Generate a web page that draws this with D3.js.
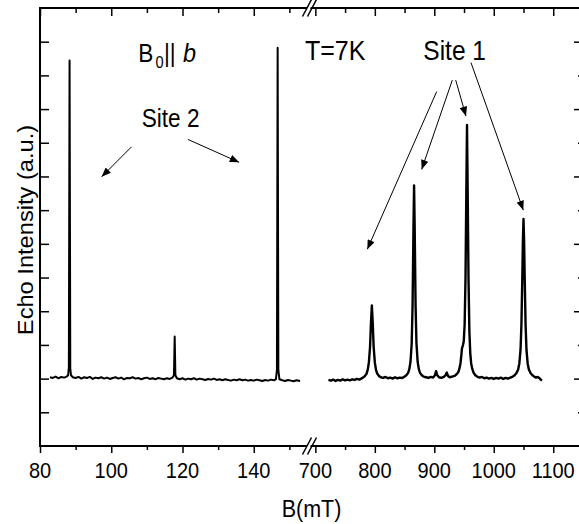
<!DOCTYPE html>
<html>
<head>
<meta charset="utf-8">
<script src="https://cdn.jsdelivr.net/npm/d3@7"></script>
<style>
  html, body { margin: 0; padding: 0; background: #fff; }
  svg { display: block; font-family: "Liberation Sans", Arial, Helvetica, sans-serif; }
</style>
</head>
<body>
<svg id="chart" width="579" height="524"></svg>
<script>
// Low-field scan (Site 2 lines), [B (mT), echo intensity (a.u.)]
const lowFieldTrace = [
  [82.8,0.04],[83.6,0.02],[84.4,0.06],[85.2,0.01],[86.0,0.05],[86.8,0.03],[87.5,0.06],
  [87.9,0.10],[88.1,0.35],[88.3,9.44],[88.5,0.30],[88.7,0.10],[89.2,0.04],[90.0,0.02],
  [90.8,0.05],[91.6,0.00],[92.4,0.04],[93.2,0.02],[94.0,0.05],[94.8,-0.01],[95.6,0.03],
  [96.4,0.01],[97.2,0.04],[98.0,0.00],[98.8,0.03],[99.6,-0.01],[100.4,0.02],[101.2,0.04],
  [102.0,0.00],[102.8,0.03],[103.6,-0.02],[104.4,0.02],[105.2,0.01],[106.0,0.04],[106.8,0.00],
  [107.6,0.02],[108.4,-0.02],[109.2,0.01],[110.0,0.03],[110.8,-0.01],[111.6,0.01],[112.4,-0.02],
  [113.2,0.02],[114.0,0.00],[114.8,-0.02],[115.6,0.01],[116.4,-0.01],[117.2,0.03],[117.6,0.10],
  [117.8,1.25],[118.0,0.10],[118.4,0.01],[119.2,-0.02],[120.0,0.01],[120.8,-0.03],[121.6,0.00],
  [122.4,-0.02],[123.2,0.01],[124.0,-0.03],[124.8,0.00],[125.6,-0.02],[126.4,-0.04],[127.2,-0.01],
  [128.0,-0.03],[128.8,0.00],[129.6,-0.04],[130.4,-0.02],[131.2,-0.05],[132.0,-0.02],[132.8,-0.04],
  [133.6,-0.06],[134.4,-0.03],[135.2,-0.05],[136.0,-0.02],[136.8,-0.05],[137.6,-0.03],[138.4,-0.06],
  [139.2,-0.04],[140.0,-0.06],[140.8,-0.03],[141.6,-0.05],[142.4,-0.07],[143.2,-0.04],[144.0,-0.06],
  [144.8,-0.03],[145.6,-0.05],[146.2,-0.02],[146.5,0.25],[146.7,9.82],[146.9,0.25],[147.2,-0.02],
  [148.0,-0.05],[148.8,-0.07],[149.6,-0.04],[150.4,-0.06],[151.2,-0.08],[152.0,-0.05],[153.0,-0.07]
];

// High-field scan (Site 1 lines), [B (mT), echo intensity (a.u.)]
const highFieldTrace = [
  [722,-0.04],[726,-0.06],[730,-0.03],[734,-0.07],[738,-0.04],[742,-0.06],[746,-0.02],[750,-0.05],
  [754,-0.03],[758,-0.05],[762,-0.02],[766,-0.04],[770,-0.01],[774,-0.03],[777,0.00],[780,0.03],
  [783,0.07],[786,0.14],[788,0.26],[790,0.48],[792,0.95],[793.5,1.65],[795,2.17],[796.5,1.65],
  [798,0.95],[800,0.48],[802,0.26],[804,0.15],[807,0.08],[810,0.04],[814,0.02],[818,0.05],
  [822,0.01],[826,0.03],[830,0.00],[834,0.04],[838,0.01],[842,0.03],[846,0.02],[850,0.06],
  [853,0.10],[856,0.17],[858,0.28],[860,0.50],[862,1.05],[863.5,2.20],[865,4.50],[866,5.73],
  [867,4.50],[868.5,2.20],[870,1.05],[872,0.50],[874,0.28],[876,0.17],[879,0.10],[882,0.06],
  [886,0.04],[890,0.02],[894,0.05],[898,0.03],[901,0.10],[903,0.22],[905,0.10],[908,0.04],
  [912,0.02],[916,0.05],[919,0.10],[921,0.18],[923,0.08],[926,0.04],[930,0.06],[934,0.08],
  [937,0.12],[940,0.18],[942,0.28],[944,0.45],[945.5,0.70],[946.5,0.90],[948,0.98],[949.5,1.10],
  [951,1.60],[952.5,3.00],[954,5.80],[955,7.53],[956,5.80],[957.5,3.00],[959,1.40],[960.5,0.75],
  [962,0.45],[964,0.28],[966,0.18],[969,0.10],[972,0.06],[976,0.03],[980,0.05],[984,0.01],
  [988,0.03],[992,0.00],[996,0.02],[1000,-0.01],[1004,0.02],[1008,0.00],[1012,0.03],[1016,-0.01],
  [1020,0.02],[1024,0.00],[1028,0.03],[1032,0.06],[1035,0.10],[1038,0.16],[1041,0.27],[1043,0.45],
  [1045,0.85],[1046.5,1.60],[1048,3.00],[1049,4.10],[1050,4.74],[1051,4.10],[1052,3.00],[1053.5,1.60],
  [1055,0.85],[1057,0.45],[1059,0.27],[1062,0.16],[1065,0.10],[1068,0.06],[1071,0.03],[1074,0.05],
  [1077,0.01],[1079,-0.03],[1081,-0.06]
];

// Axis ticks
const lowMajorTicks = [80, 100, 120, 140];
const lowMinorTicks = [90, 110, 130, 150];
const highMajorTicks = [700, 800, 900, 1000, 1100];
const highMinorTicks = [750, 850, 950, 1050];
const leftTicks = [-1, 0, 1, 2, 3, 4, 5, 6, 7, 8, 9, 10];
const rightMajorTicks = [0, 2, 4, 6, 8, 10];
const rightMinorTicks = [-1, 1, 3, 5, 7, 9];

// Arrows pointing from the site labels to their lines, [B from, I from, B to, I to]
const site2Arrows = [[105.7, 6.88, 97.3, 5.99], [121.5, 7.10, 135.9, 6.42]];
const site1Arrows = [
  [904.0, 8.52, 787.4, 3.84],
  [930.3, 8.86, 878.8, 6.21],
  [936.0, 8.86, 953.3, 7.79],
  [961.7, 9.38, 1049.7, 5.00]
];

const svg = d3.select("#chart");

// Broken field axis: two linear segments sharing one frame
const xLow = d3.scaleLinear().domain([80, 155.5]).range([40, 309]);
const xHigh = d3.scaleLinear().domain([691, 1145]).range([310, 580]);
const y = d3.scaleLinear().domain([-2, 11]).range([446, 8]);

const plotLeft = xLow.range()[0], plotRight = xHigh.range()[1];
const plotTop = y.range()[1], plotBottom = y.range()[0];

// Text helper: glyphs are drawn slightly taller than wide
function label(g, x, yb, str, size, sy, anchor) {
  return g.append("text")
    .attr("transform", `translate(${x},${yb}) scale(1,${sy})`)
    .attr("font-size", size)
    .attr("text-anchor", anchor || "start")
    .attr("fill", "#000")
    .text(str);
}

// Traces
const lowLine = d3.line().x(d => xLow(d[0])).y(d => y(d[1]));
const highLine = d3.line().x(d => xHigh(d[0])).y(d => y(d[1]));

svg.append("path").datum(lowFieldTrace)
  .attr("d", lowLine).attr("fill", "none").attr("stroke", "#000")
  .attr("stroke-width", 2).attr("stroke-linejoin", "round");
svg.append("path").datum(highFieldTrace)
  .attr("d", highLine).attr("fill", "none").attr("stroke", "#000")
  .attr("stroke-width", 2.4).attr("stroke-linejoin", "round");

// Axes
function styleAxis(g) {
  g.select(".domain").remove();
  g.selectAll(".tick line").attr("stroke", "#000").attr("stroke-width", 1.5);
  g.selectAll(".tick text").remove();
}

[[xLow, lowMajorTicks, 7, 8], [xLow, lowMinorTicks, 4, 5],
 [xHigh, highMajorTicks, 7, 8], [xHigh, highMinorTicks, 4, 5]].forEach(([sc, vals, outLen, inLen]) => {
  svg.append("g").attr("transform", `translate(0,${plotBottom})`)
    .call(d3.axisBottom(sc).tickValues(vals).tickSize(outLen).tickSizeOuter(0)).call(styleAxis);
  svg.append("g").attr("transform", `translate(0,${plotTop})`)
    .call(d3.axisTop(sc).tickValues(vals).tickSize(-inLen).tickSizeOuter(0)).call(styleAxis);
});

svg.append("g").attr("transform", `translate(${plotLeft},0)`)
  .call(d3.axisLeft(y).tickValues(leftTicks).tickSize(-9).tickSizeOuter(0)).call(styleAxis);
svg.append("g").attr("transform", `translate(${plotRight},0)`)
  .call(d3.axisRight(y).tickValues(rightMajorTicks).tickSize(-6).tickSizeOuter(0)).call(styleAxis);
svg.append("g").attr("transform", `translate(${plotRight},0)`)
  .call(d3.axisRight(y).tickValues(rightMinorTicks).tickSize(-2).tickSizeOuter(0)).call(styleAxis);

// Frame
const frame = svg.append("g").attr("stroke", "#000").attr("stroke-width", 2).attr("stroke-linecap", "square");
frame.append("line").attr("x1", plotLeft).attr("x2", plotLeft).attr("y1", plotTop).attr("y2", plotBottom);
frame.append("line").attr("x1", plotRight).attr("x2", plotRight).attr("y1", plotTop).attr("y2", plotBottom);
frame.append("line").attr("x1", plotLeft).attr("x2", plotRight).attr("y1", plotTop).attr("y2", plotTop);
frame.append("line").attr("x1", plotLeft).attr("x2", plotRight).attr("y1", plotBottom).attr("y2", plotBottom);

// Axis break marks on top and bottom spines
function breakMark(yc) {
  const bx = (xLow.range()[1] + xHigh.range()[0]) / 2;
  svg.append("polygon")
    .attr("points", [[bx - 4.5, yc + 6], [bx - 0.5, yc - 6], [bx + 3, yc - 6], [bx - 1, yc + 6]].map(p => p.join(",")).join(" "))
    .attr("fill", "#fff");
  [-2.5, 2.5].forEach(off => {
    svg.append("line")
      .attr("x1", bx + off - 4.5).attr("y1", yc + 8.5)
      .attr("x2", bx + off + 4.5).attr("y2", yc - 8.5)
      .attr("stroke", "#000").attr("stroke-width", 1.5);
  });
}
breakMark(plotTop);
breakMark(plotBottom);

// Tick labels
const tickLabels = svg.append("g");
lowMajorTicks.forEach(v => label(tickLabels, xLow(v), 478, String(v), 20, 1.12, "middle"));
highMajorTicks.forEach(v => label(tickLabels, xHigh(v), 478, String(v), 20, 1.12, "middle"));

// Axis titles
label(svg, 311.5, 517, "B(mT)", 21.5, 1.13, "middle");
svg.append("text")
  .attr("transform", `translate(33,230) rotate(-90) scale(1.1,1)`)
  .attr("font-size", 21.5).attr("text-anchor", "middle").attr("fill", "#000")
  .text("Echo Intensity (a.u.)");

// Annotations
const notes = svg.append("g");
label(notes, 138.3, 61.7, "B", 22.6, 1.12);
label(notes, 155.5, 68.3, "0", 14.6, 1.12);
label(notes, 164, 61.7, "||", 22.6, 1.12);
label(notes, 183, 61.7, "b", 23.5, 1.1).attr("font-style", "italic");
label(notes, 141.7, 126.7, "Site 2", 22.6, 1.12);
label(notes, 305, 60, "T=7K", 25, 1.08);
label(notes, 423.3, 60, "Site 1", 24.5, 1.1);

// Arrowhead
svg.append("defs").append("marker")
  .attr("id", "head").attr("viewBox", "0 0 10 8")
  .attr("refX", 10).attr("refY", 4)
  .attr("markerWidth", 10).attr("markerHeight", 7.5)
  .attr("markerUnits", "userSpaceOnUse").attr("orient", "auto")
  .append("path").attr("d", "M0,0 L10,4 L0,8 Z").attr("fill", "#000");

function drawArrows(list, sx) {
  list.forEach(a => {
    notes.append("line")
      .attr("x1", sx(a[0])).attr("y1", y(a[1]))
      .attr("x2", sx(a[2])).attr("y2", y(a[3]))
      .attr("stroke", "#000").attr("stroke-width", 1)
      .attr("marker-end", "url(#head)");
  });
}
drawArrows(site2Arrows, xLow);
drawArrows(site1Arrows, xHigh);
</script>
</body>
</html>
